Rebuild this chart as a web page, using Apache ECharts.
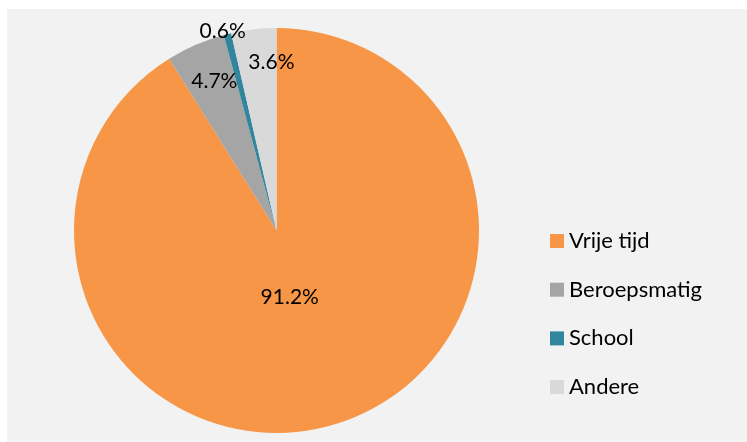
<!DOCTYPE html>
<html><head><meta charset="utf-8">
<script src="https://cdn.jsdelivr.net/npm/echarts@6/dist/echarts.min.js"></script>
<style>
html,body{margin:0;padding:0;background:#fff;width:747px;height:442px;overflow:hidden;}
#c{position:absolute;left:7px;top:9px;width:740px;height:433px;background:#f2f2f2;}
</style></head>
<body><div id="c"></div>
<script>
const categories = ['Vrije tijd', 'Beroepsmatig', 'School', 'Andere'];
const values = [91.2, 4.7, 0.6, 3.6];
const colors = ['#F79646', '#A5A5A5', '#31859C', '#D9D9D9'];
// layout only: radial band (fraction of radius) where each label sits, and a small nudge [dx, dy] px
const labelBands = [[0, 0.66], [0.60, 0.98], [0.98, 1.02], [0.64, 1.0]];
const labelNudge = [[-6, 0], [3, 2], [-4, 2], [14, 2]];

const CX = 269.5, CY = 221.5, R = 202.5;
const font = 'Lato, "Open Sans", sans-serif';

const data = categories.map((n, i) => ({ name: n, value: values[i], itemStyle: { color: colors[i] } }));

function nudgePadding(d) {
  const dx = d[0], dy = d[1];
  return [Math.max(0, 2 * dy), Math.max(0, -2 * dx), Math.max(0, -2 * dy), Math.max(0, 2 * dx)];
}

const series = [{
  type: 'pie', center: [CX, CY], radius: [0, R], startAngle: 90, clockwise: true,
  silent: true, label: { show: false }, labelLine: { show: false },
  data: data, animation: false
}];
labelBands.forEach((b, li) => {
  series.push({
    type: 'pie', center: [CX, CY], radius: [b[0] * R, b[1] * R], startAngle: 90, clockwise: true,
    silent: true, labelLine: { show: false }, animation: false,
    itemStyle: { color: 'rgba(0,0,0,0)' },
    data: categories.map((n, i) => ({
      name: n, value: values[i],
      itemStyle: { color: 'rgba(0,0,0,0)' },
      label: {
        show: i === li, position: 'inside', color: '#000',
        fontFamily: font, fontSize: 21, padding: nudgePadding(labelNudge[i]),
        formatter: (p) => values[p.dataIndex].toFixed(1) + '%'
      }
    }))
  });
});

const chart = echarts.init(document.getElementById('c'), null, { renderer: 'canvas' });
chart.setOption({
  animation: false,
  color: colors,
  legend: {
    data: categories.map((n, i) => ({ name: n, itemStyle: { color: colors[i] } })),
    orient: 'vertical', left: 538, top: 216, itemWidth: 14, itemHeight: 14, itemGap: 26.7,
    icon: 'rect', selectedMode: false,
    textStyle: { fontFamily: font, fontSize: 22, lineHeight: 20, color: '#000', padding: [0, 0, 0, 0] }
  },
  series: series
});
</script></body></html>
